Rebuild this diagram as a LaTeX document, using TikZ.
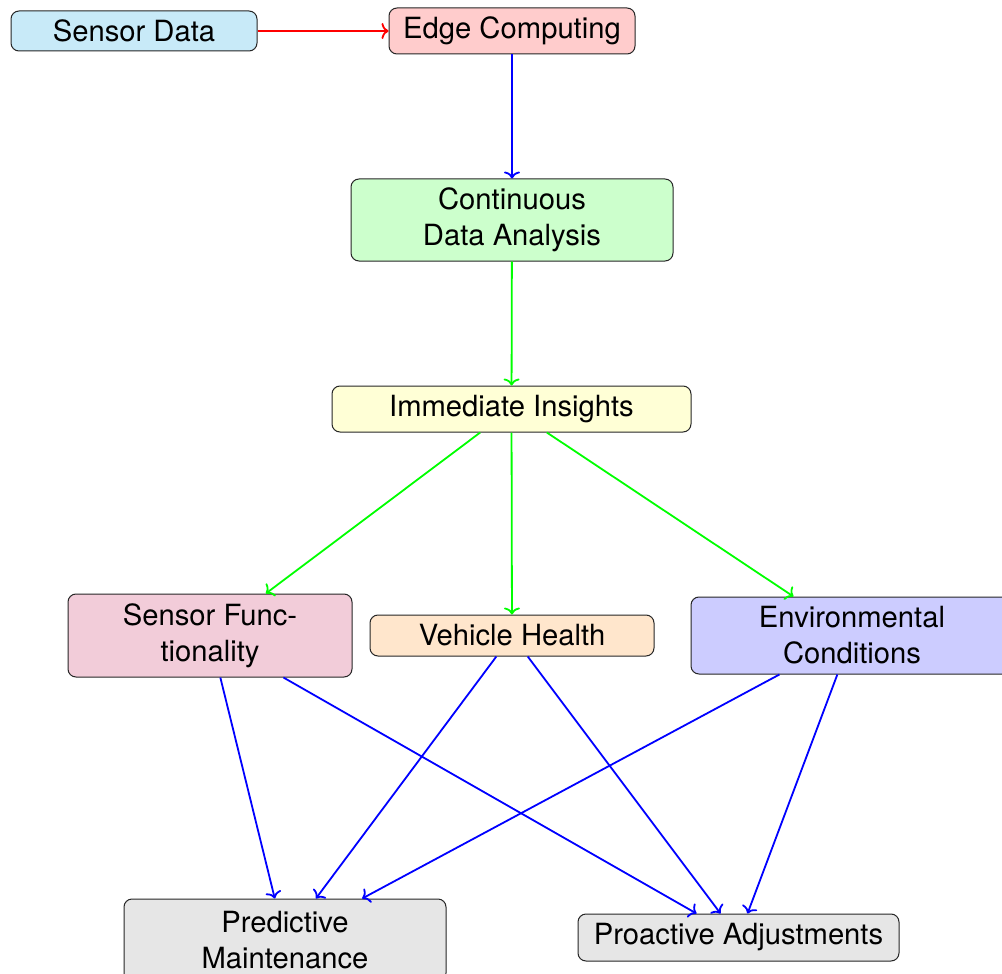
\documentclass[tikz,border=0pt]{standalone}
\usepackage{fontspec}
\setmainfont{TeX Gyre Heros}
\usetikzlibrary{arrows.meta}
\definecolor{cSD}{RGB}{200,234,248}
\definecolor{cEC}{RGB}{255,204,204}
\definecolor{cCA}{RGB}{204,255,204}
\definecolor{cII}{RGB}{255,255,214}
\definecolor{cSF}{RGB}{242,204,217}
\definecolor{cVH}{RGB}{255,230,204}
\definecolor{cEN}{RGB}{204,204,255}
\definecolor{cGR}{RGB}{230,230,230}
\begin{document}
\begin{tikzpicture}[x=0.5pt,y=-0.5pt,
  box/.style={draw=black!85, line width=0.5pt, rounded corners=4pt, align=center, inner sep=0pt,
    font=\fontsize{14.6}{18}\selectfont},
  arr/.style={-{To[length=3.5pt,width=8pt]}, line width=0.9pt}]
\useasboundingbox (0,0) rectangle (1002,974);
\node[box, fill=cSD, minimum width=123pt, minimum height=20pt] (sd) at (134,31) {Sensor Data};
\node[box, fill=cEC, minimum width=123pt, minimum height=23pt] (ec) at (512,31) {Edge Computing};
\node[box, fill=cCA, minimum width=161pt, minimum height=41pt] (ca) at (512,220) {Continuous\\Data Analysis};
\node[box, fill=cII, minimum width=179.5pt, minimum height=23pt] (ii) at (511.5,409) {Immediate Insights};
\node[box, fill=cSF, minimum width=142pt, minimum height=41.5pt] (sf) at (210,635.5) {Sensor Func-\\tionality};
\node[box, fill=cVH, minimum width=142pt, minimum height=20.5pt] (vh) at (512,635.5) {Vehicle Health};
\node[box, fill=cEN, minimum width=161pt, minimum height=38.5pt] (en) at (852,635.5) {Environmental\\Conditions};
\node[box, fill=cGR, minimum width=161pt, minimum height=41pt] (pm) at (285,940) {Predictive\\Maintenance};
\node[box, fill=cGR, minimum width=160.5pt, minimum height=23.5pt] (pa) at (738.5,937.5) {Proactive Adjustments};
\draw[arr, red] (sd) -- (ec);
\draw[arr, blue] (ec) -- (ca);
\draw[arr, green] (ca) -- (ii);
\draw[arr, green] (ii) -- (sf);
\draw[arr, green] (ii) -- (vh);
\draw[arr, green] (ii) -- (en);
\draw[arr, blue] (sf) -- (pm);
\draw[arr, blue] (sf) -- (pa);
\draw[arr, blue] (vh) -- (pm);
\draw[arr, blue] (vh) -- (pa);
\draw[arr, blue] (en) -- (pm);
\draw[arr, blue] (en) -- (pa);
\end{tikzpicture}
\end{document}
